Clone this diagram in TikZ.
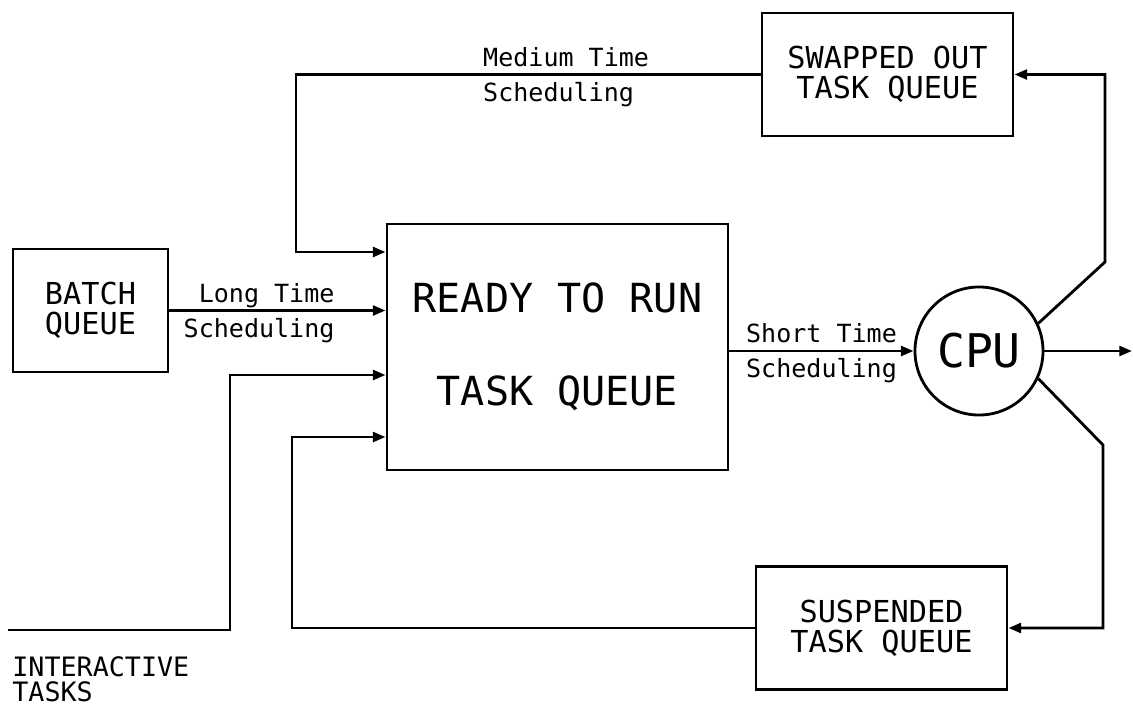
\documentclass[tikz,border=0pt]{standalone}
\usepackage{fontspec}
\newfontfamily\plotter{DejaVu Sans Mono}
\usetikzlibrary{arrows.meta,positioning,calc}
\definecolor{ink}{RGB}{0,0,0}
\newcommand{\lblfont}{\plotter\fontsize{17.8}{17.8}\selectfont}
\newcommand{\boxfont}{\plotter\fontsize{21.5}{21.3}\selectfont}
\newcommand{\notefont}{\plotter\fontsize{19}{18}\selectfont}
\newcommand{\readyfont}{\plotter\fontsize{28.5}{66.2}\selectfont}
\newcommand{\procfont}{\plotter\fontsize{33}{33}\selectfont}
\tikzset{
  every picture/.style={color=ink, line width=2pt},
  box/.style={draw=ink, inner sep=0pt, align=center, font=\boxfont},
  queue/.style={box, minimum width=6.275cm, minimum height=3.075cm},
  bigbox/.style={box, font=\readyfont, minimum width=8.525cm, minimum height=6.15cm},
  proc/.style={circle, draw=ink, inner sep=0pt, minimum size=3.2cm, font=\procfont},
  flow/.style={-{Triangle[length=9pt,width=7pt]}},
  lbl/.style={font=\lblfont, inner xsep=0pt, inner ysep=5pt, text height=13pt, text depth=0pt},
  note/.style={font=\notefont, align=left, inner sep=0pt},
}

\begin{document}
\begin{tikzpicture}[x=0.025cm, y=-0.025cm]
  \useasboundingbox (0,0) rectangle (1133,711);
  \node[box, minimum width=3.875cm, minimum height=3.075cm] (batch) at (90.5,310.5) {BATCH\\QUEUE};
  \node[bigbox] (ready) at (557.5,347) {READY TO RUN\\TASK QUEUE};
  \node[queue] (swapped) at (887.5,74.5) {SWAPPED OUT\\TASK QUEUE};
  \node[queue] (suspended) at (881.5,628) {SUSPENDED\\TASK QUEUE};
  \node[proc] (cpu) at (979,351) {CPU};
  \node[note, anchor=north west] (interlbl) at (11,655) {INTERACTIVE\\TASKS};
  \coordinate (medbend) at (296,252);
  \coordinate (interin) at (8,630);
  \coordinate (interbend) at (230,375);
  \coordinate (suspbend) at (292,437);
  \coordinate (upbend) at (1105,262);
  \coordinate (downbend) at (1103,445);
  \coordinate (out) at (1132,351);
  \draw[flow] (batch.east) -- node[lbl, pos=0.77, above left] (longlbl) {Long Time} node[lbl, pos=0.77, below left] (longsched) {Scheduling} (ready.west |- batch.east);
  \draw[flow] (swapped.west) -- node[lbl, pos=0.6, above right] (medlbl) {Medium Time} node[lbl, pos=0.6, below right] (medsched) {Scheduling} (swapped.west -| medbend) -- (medbend) -- (ready.west |- medbend);
  \draw[flow] (interin) -| (interbend) -- (ready.west |- interbend);
  \draw[flow] (suspended.west) -| (suspbend) -- (ready.west |- suspbend);
  \draw[flow] (ready.east |- cpu.west) -- node[lbl, above] (shortlbl) {Short Time} node[lbl, below] (shortsched) {Scheduling} (cpu.west);
  \draw[flow] (cpu.east) -- (out);
  \draw[flow] (cpu.25) -- (upbend) |- (swapped.east);
  \draw[flow] (cpu.-25) -- (downbend) |- (suspended.east);
\end{tikzpicture}
\end{document}
